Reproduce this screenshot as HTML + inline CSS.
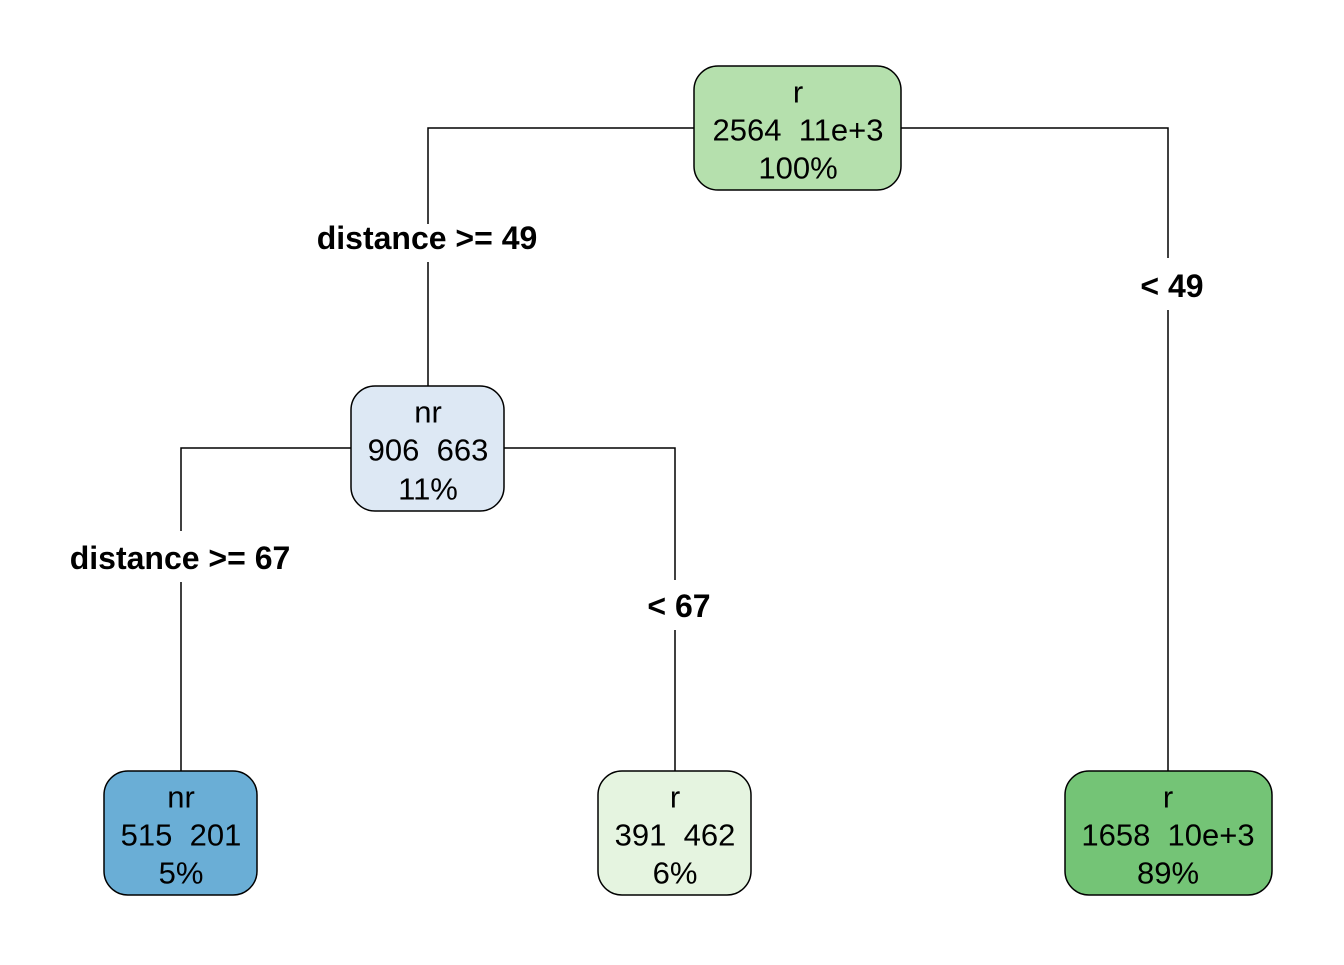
<!DOCTYPE html>
<html><head><style>html,body{margin:0;padding:0;background:#fff;} text{white-space:pre;}</style></head>
<body>
<svg width="1344" height="960" xmlns="http://www.w3.org/2000/svg" font-family="Liberation Sans, Arial, sans-serif" xml:space="preserve">
<rect width="1344" height="960" fill="#fff"/>
<g stroke="#000" stroke-width="1.5" fill="none">
<path d="M694 128 H428 V224 M428 262 V386"/>
<path d="M901 128 H1168 V258 M1168 310 V771"/>
<path d="M351 448 H181 V531 M181 582 V771"/>
<path d="M504 448 H675 V580 M675 630 V771"/>
</g>
<g stroke="#000" stroke-width="1.5">
<rect x="694" y="66" width="207" height="124" rx="24" fill="#b5e0ad"/>
<rect x="351" y="386" width="153" height="125" rx="24" fill="#dde8f4"/>
<rect x="104" y="771" width="153" height="124" rx="24" fill="#6aaed6"/>
<rect x="598" y="771" width="153" height="124" rx="24" fill="#e5f4e0"/>
<rect x="1065" y="771" width="207" height="124" rx="24" fill="#74c476"/>
</g>
<g font-size="31" text-anchor="middle" fill="#000" dominant-baseline="central">
<text x="798" y="92">r</text><text x="798" y="130">2564  11e+3</text><text x="798" y="168">100%</text>
<text x="428" y="412">nr</text><text x="428" y="450">906  663</text><text x="428" y="489">11%</text>
<text x="181" y="797">nr</text><text x="181" y="835">515  201</text><text x="181" y="873">5%</text>
<text x="675" y="797">r</text><text x="675" y="835">391  462</text><text x="675" y="873">6%</text>
<text x="1168" y="797">r</text><text x="1168" y="835">1658  10e+3</text><text x="1168" y="873">89%</text>
</g>
<g font-size="32" font-weight="bold" text-anchor="middle" fill="#000" dominant-baseline="central">
<text x="427" y="238">distance &gt;= 49</text>
<text x="1172" y="286">&lt; 49</text>
<text x="180" y="558">distance &gt;= 67</text>
<text x="679" y="606">&lt; 67</text>
</g>
</svg>
</body></html>
